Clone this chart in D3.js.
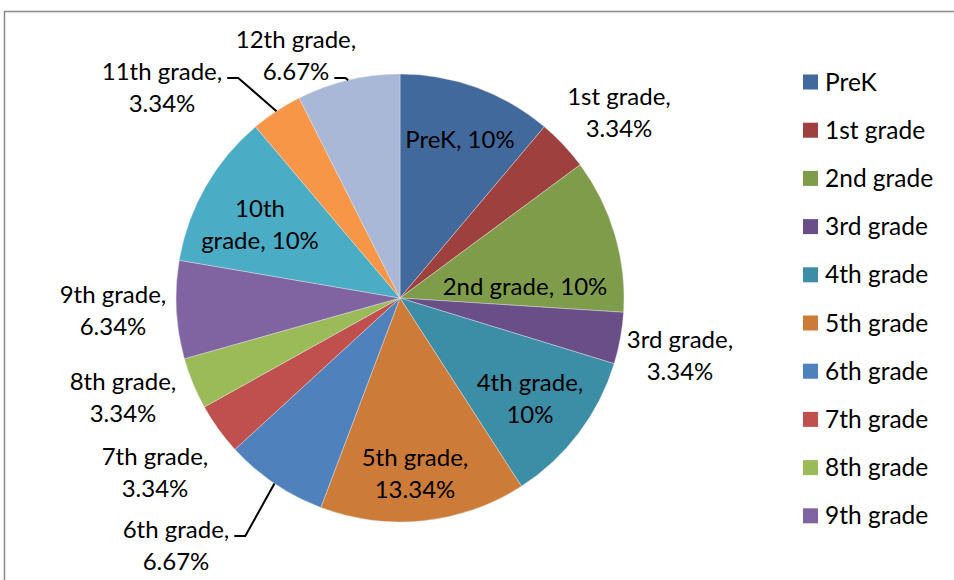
<!DOCTYPE html>
<html>
<head>
<meta charset="utf-8">
<script src="https://cdn.jsdelivr.net/npm/d3@7"></script>
<style>
  body { margin: 0; background: #fff; }
  text { font-family: Lato, "Open Sans", sans-serif; fill: #000; }
</style>
</head>
<body>
<script>
// données
const categories = ["PreK", "1st grade", "2nd grade", "3rd grade", "4th grade", "5th grade",
  "6th grade", "7th grade", "8th grade", "9th grade", "10th grade", "11th grade", "12th grade"];
const values = [10, 3.34, 10, 3.34, 10, 13.34, 6.67, 3.34, 3.34, 6.34, 10, 3.34, 6.67];
const valueLabels = ["10%", "3.34%", "10%", "3.34%", "10%", "13.34%", "6.67%", "3.34%", "3.34%", "6.34%", "10%", "3.34%", "6.67%"];
const colors = ["#41699b", "#9e413e", "#7f9c4a", "#6a4e88", "#3c8ea6", "#cd7b38",
  "#4f81bd", "#c0504d", "#9bbb59", "#8064a2", "#4bacc6", "#f79646", "#a9b8d6"];
const legendCount = 10; // la légende est coupée après 9th grade

// placement des étiquettes (centre du bloc, lignes, trait de rappel)
const labelLayout = [
  { x: 460, y: 140, lines: ["{c}, {v}"] },
  { x: 619, y: 113, lines: ["{c},", "{v}"] },
  { x: 525, y: 287, lines: ["{c}, {v}"] },
  { x: 680, y: 356, lines: ["{c},", "{v}"] },
  { x: 530, y: 399, lines: ["{c},", "{v}"] },
  { x: 415, y: 474, lines: ["{c},", "{v}"] },
  { x: 176, y: 546, lines: ["{c},", "{v}"], leader: 0 },
  { x: 155, y: 473, lines: ["{c},", "{v}"] },
  { x: 123, y: 398, lines: ["{c},", "{v}"] },
  { x: 113, y: 311, lines: ["{c},", "{v}"] },
  { x: 260, y: 225, lines: ["10th", "grade, {v}"] },
  { x: 162, y: 88, lines: ["{c},", "{v}"], leader: 0 },
  { x: 296, y: 56, lines: ["{c},", "{v}"], leader: 1 }
];

const width = 954, height = 580;
const cx = 400, cy = 298, radius = 224;
const fontSize = 24, lineH = 32;

const svg = d3.select("body").append("svg")
  .attr("width", width)
  .attr("height", height);

// cadre
svg.append("rect")
  .attr("x", 4.5).attr("y", 11.5)
  .attr("width", 1000).attr("height", 700)
  .attr("fill", "none")
  .attr("stroke", "#898989")
  .attr("stroke-width", 1.5);

const data = categories.map((c, i) => ({ category: c, value: values[i], label: valueLabels[i], color: colors[i] }));

const pie = d3.pie().sort(null).value(d => d.value);
const arc = d3.arc().innerRadius(0).outerRadius(radius);
const arcs = pie(data);

const g = svg.append("g").attr("transform", `translate(${cx},${cy})`);

g.selectAll("path")
  .data(arcs)
  .enter().append("path")
  .attr("d", arc)
  .attr("fill", d => d.data.color)
  .attr("stroke", "#e8e8e8")
  .attr("stroke-width", 0.4);

// étiquettes
const labels = svg.append("g");
arcs.forEach((a, i) => {
  const lay = labelLayout[i];
  const lines = lay.lines.map(l => l.replace("{c}", a.data.category).replace("{v}", a.data.label));
  const t = labels.append("text")
    .attr("text-anchor", "middle")
    .style("font-size", fontSize + "px");
  lines.forEach((l, k) => {
    t.append("tspan")
      .attr("x", lay.x)
      .attr("y", lay.y + (k - (lines.length - 1) / 2) * lineH)
      .attr("dy", "0.35em")
      .text(l);
  });

  if (lay.leader !== undefined) {
    // trait de rappel vers le bord de la part
    const mid = (a.startAngle + a.endAngle) / 2;
    const ex = cx + radius * Math.sin(mid);
    const ey = cy - radius * Math.cos(mid);
    const k = lay.leader;
    const w = t.selectAll("tspan").nodes()[k].getComputedTextLength();
    const sx = lay.x + w / 2 + 5;
    const sy = lay.y + (k - (lines.length - 1) / 2) * lineH + 6;
    labels.append("path")
      .attr("d", `M${sx},${sy}H${Math.max(sx + 8, Math.min(sx + 11, ex - 2))}L${ex},${ey}`)
      .attr("fill", "none")
      .attr("stroke", "#000")
      .attr("stroke-width", 2);
  }
});

// légende
const legend = svg.append("g");
const legendItems = legend.selectAll("g")
  .data(data.slice(0, legendCount))
  .enter().append("g")
  .attr("transform", (d, i) => `translate(803,${82 + i * 48.2})`);

legendItems.append("rect")
  .attr("x", 0).attr("y", -7.5)
  .attr("width", 15).attr("height", 15)
  .attr("fill", d => d.color);

legendItems.append("text")
  .attr("x", 22)
  .attr("dy", "0.35em")
  .style("font-size", "24.5px")
  .text(d => d.category);
</script>
</body>
</html>
